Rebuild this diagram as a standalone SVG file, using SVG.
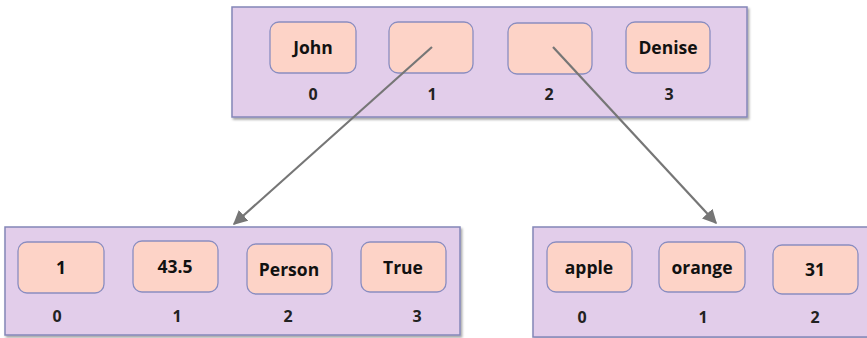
<svg xmlns="http://www.w3.org/2000/svg" width="867" height="338" viewBox="0 0 867 338">
<defs>
<filter id="sh" x="-5%" y="-5%" width="110%" height="115%">
<feDropShadow dx="1.5" dy="2" stdDeviation="1.2" flood-color="#000" flood-opacity="0.35"/>
</filter>
<marker id="ah" viewBox="0 0 10 10" refX="9" refY="5" markerWidth="6.5" markerHeight="6.5" orient="auto" markerUnits="strokeWidth">
<path d="M0,0 L10,5 L0,10 z" fill="#767676"/>
</marker>
</defs>
<style>
.cont{fill:#e2cdea;stroke:#8486b8;stroke-width:1.5;filter:url(#sh)}
.cell{fill:#fdd3c7;stroke:#8a8dc0;stroke-width:1.3}
.val{font-family:"Open Sans","Liberation Sans",sans-serif;font-weight:bold;font-size:17.5px;fill:#111;text-anchor:middle}
.idx{font-family:"Open Sans","Liberation Sans",sans-serif;font-weight:bold;font-size:16px;fill:#222;text-anchor:middle}
.conn{stroke:#767676;stroke-width:2.2;fill:none;marker-end:url(#ah)}
</style>
<rect x="0" y="0" width="867" height="338" fill="#fff"/>

<g id="top-list">
<rect class="cont" x="232" y="7" width="515" height="110"/>
<rect class="cell" x="270" y="22" width="86" height="51" rx="9"/>
<text class="val" x="313" y="54">John</text>
<rect class="cell" x="389" y="22" width="84" height="51" rx="9"/>
<rect class="cell" x="508" y="23" width="84" height="51" rx="9"/>
<rect class="cell" x="626" y="22" width="84" height="51" rx="9"/>
<text class="val" x="668" y="54">Denise</text>
<text class="idx" x="313" y="100">0</text>
<text class="idx" x="432" y="100">1</text>
<text class="idx" x="549" y="100">2</text>
<text class="idx" x="669" y="100">3</text>
</g>

<g id="left-list">
<rect class="cont" x="5" y="227" width="455" height="108"/>
<rect class="cell" x="18" y="242" width="86" height="51" rx="9"/>
<text class="val" x="61" y="274">1</text>
<rect class="cell" x="133" y="241" width="85" height="51" rx="9"/>
<text class="val" x="175" y="273">43.5</text>
<rect class="cell" x="247" y="244" width="85" height="50" rx="9"/>
<text class="val" x="289" y="275.5">Person</text>
<rect class="cell" x="361" y="242" width="85" height="50" rx="9"/>
<text class="val" x="403" y="273.5">True</text>
<text class="idx" x="57" y="322">0</text>
<text class="idx" x="177" y="322">1</text>
<text class="idx" x="288" y="322">2</text>
<text class="idx" x="417" y="322">3</text>
</g>

<g id="right-list">
<rect class="cont" x="533" y="227" width="340" height="110"/>
<rect class="cell" x="547" y="242" width="85" height="50" rx="9"/>
<text class="val" x="589" y="273.5">apple</text>
<rect class="cell" x="659" y="242" width="86" height="50" rx="9"/>
<text class="val" x="702" y="273.5">orange</text>
<rect class="cell" x="773" y="245" width="85" height="49" rx="9"/>
<text class="val" x="815" y="276">31</text>
<text class="idx" x="582" y="323">0</text>
<text class="idx" x="703" y="323">1</text>
<text class="idx" x="815" y="323">2</text>
</g>

<g id="connectors">
<line class="conn" x1="432" y1="47" x2="234" y2="224"/>
<line class="conn" x1="553" y1="47" x2="716" y2="223"/>
</g>
</svg>
